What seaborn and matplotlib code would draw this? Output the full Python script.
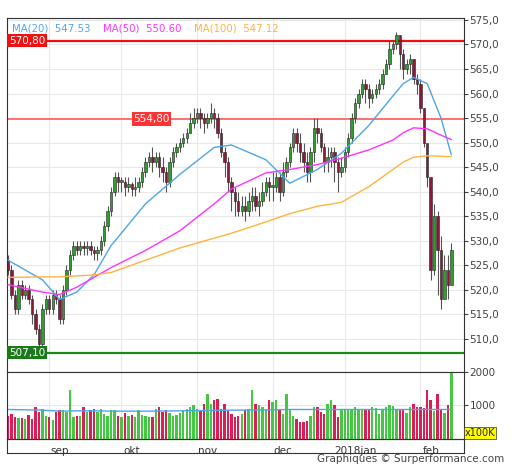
import numpy as np
import pandas as pd
import matplotlib
matplotlib.use("Agg")
import matplotlib.pyplot as plt
import seaborn as sns

# daily closes, Aug 16 2017 .. Feb 14 2018
closes = [524, 519, 516, 521, 519, 520, 518, 515, 512, 509, 516, 518,
          516, 519, 518, 514, 520, 524, 527, 529, 528, 529, 528.5, 529, 528, 527.5, 528, 530, 533, 536, 540, 543, 542,
          542, 541, 541.5, 540.5, 541, 542, 544, 546, 547, 546, 547, 545, 544, 542, 546, 548, 549, 550, 551, 552, 554, 555,
          556, 555, 554, 555, 556, 555, 552, 548, 546, 542, 540, 538, 536, 537, 536, 538, 539, 537, 538, 540, 542, 541,
          541, 543, 540, 544, 546, 549, 552, 550, 548, 546, 544, 548, 553, 552, 549, 546, 547, 548, 546, 544, 545,
          548, 551, 555, 558, 560, 562, 561, 559, 560, 561, 562, 564, 566, 569, 570, 572, 568, 565, 566, 567, 563, 562,
          557, 550, 543, 524, 535, 528, 518, 524, 521, 528]
highs = [527, 525, 520, 522, 522, 521, 521, 519, 516, 513, 517, 519,
         519, 520, 520, 519, 521, 525, 528, 530, 530, 530, 530, 530, 530, 529, 529, 531, 534, 537, 541, 544, 544,
         543, 543, 543, 542, 543, 543, 545, 547, 548, 549, 548, 548, 547, 545, 547, 549, 550, 551, 552, 553, 556, 557,
         557, 557, 556, 556, 558, 557, 556, 553, 549, 547, 543, 541, 540, 539, 539, 540, 541, 541, 540, 542, 543, 543,
         544, 544, 544, 546, 547, 550, 553, 553, 552, 550, 548, 549, 555, 555, 553, 550, 549, 549, 549, 547, 547,
         549, 552, 556, 559, 561, 563, 563, 562, 561, 562, 563, 565, 567, 571, 571, 572.5, 571, 569, 567, 568, 567, 564,
         563, 557, 545, 537, 537.5, 536, 531, 527, 527, 529.5]
lows = [523, 518, 515, 515, 518, 518, 517, 513, 511, 507.1, 508, 515,
        515, 515, 517, 513, 513, 519, 523, 526, 527, 527, 527, 527, 527, 526, 526, 527, 529, 532, 535, 539, 540,
        540, 539, 540, 539, 539, 540, 541, 543, 545, 544, 545, 543, 542, 540, 541, 545, 547, 548, 549, 550, 552, 553,
        554, 553, 552, 553, 554, 553, 551, 547, 543, 540, 536, 535, 535, 535, 534, 535, 536, 536, 535, 537, 539, 538,
        538, 540, 538, 539, 543, 545, 548, 548, 546, 544, 542, 542, 546, 550, 548, 544, 544, 545, 542, 540, 543,
        544, 547, 550, 554, 557, 559, 558, 557, 558, 559, 560, 561, 564, 565, 568, 569, 565, 563, 564, 564, 562, 560,
        556, 549, 541, 522, 523, 519, 516, 520, 518, 526]
volumes = [700, 750, 650, 620, 640, 600, 720, 600, 950, 800, 900, 700,
           650, 570, 800, 850, 850, 820, 1450, 650, 700, 700, 950, 800, 850, 900, 800, 900, 750, 700, 850, 870, 700,
           650, 780, 700, 720, 650, 850, 720, 700, 650, 650, 900, 950, 800, 850, 770, 700, 720, 780, 850, 880, 950, 1000,
           900, 850, 1050, 1350, 1050, 1150, 1200, 900, 1050, 850, 750, 650, 680, 750, 850, 900, 1450, 1050, 1000, 950, 850, 1150,
           1100, 1150, 850, 750, 1350, 850, 700, 600, 500, 500, 550, 700, 950, 950, 800, 750, 1050, 1150, 1000, 650, 900,
           850, 870, 900, 950, 850, 880, 900, 870, 950, 920, 760, 900, 950, 1000, 970, 880, 900, 880, 790, 940, 1050, 950,
           950, 930, 1450, 1150, 830, 1350, 860, 780, 1020, 2000]
first_open = 526

# moving averages read at sample days
ma_idx = [0, 10, 15, 20, 25, 30, 40, 50, 60, 65, 75, 82, 90, 97, 105, 112, 115, 118, 122, 126, 129]
ma20 = [526, 522, 518, 519.5, 523, 529, 537.5, 543.5, 549, 549.5, 546.5, 541.7, 544.5, 547.8, 553.5, 559.5, 562, 563.3, 562, 555, 547.5]
ma50 = [521, 519.5, 519, 520.5, 522.5, 524.5, 528, 532, 537.5, 540.5, 543.8, 544.5, 545.5, 546.8, 548.5, 550.5, 552, 553, 552.8, 551.5, 550.6]
ma100 = [522.5, 522.6, 522.6, 522.8, 523, 523.5, 526, 528.5, 530.5, 531.5, 533.8, 535.5, 537, 537.8, 541, 544.5, 546, 547, 547.3, 547.2, 547.1]
vol_avg = [880, 860, 830, 840, 840, 830, 830, 840, 850, 860, 870, 880, 880, 880, 880, 880, 880, 880, 880, 880, 880]

month_idx = [12, 33, 55, 77, 98, 120]
month_labels = ["sep", "okt", "nov", "dec", "2018jan", "feb"]

n = min(len(closes), len(highs), len(lows), len(volumes))
df = pd.DataFrame({"close": closes[:n], "high": highs[:n], "low": lows[:n], "volume": volumes[:n]})
df["open"] = df["close"].shift(1).fillna(first_open)
df["up"] = df["close"] >= df["open"]
df["idx"] = np.arange(n)
ma = pd.DataFrame({"idx": ma_idx, "ma20": ma20, "ma50": ma50, "ma100": ma100, "vavg": vol_avg})

sns.set_style("whitegrid", {"grid.color": "#e8e8e8", "axes.edgecolor": "#333333"})
plt.rcParams["font.family"] = ["DejaVu Sans"]

fig = plt.figure(figsize=(5.12, 4.70), dpi=100)
ax = fig.add_axes([0.0137, 0.2085, 0.8926, 0.7532])
axv = fig.add_axes([0.0137, 0.066, 0.8926, 0.1426], sharex=ax)

# candles
ax.vlines(df["idx"], df["low"], df["high"], color="#555555", lw=0.8, zorder=3)
body_bottom = np.minimum(df["open"], df["close"])
body_h = np.maximum(np.abs(df["close"] - df["open"]), 0.3)
cols = np.where(df["up"], "#2e9e2e", "#8b1a3a")
ax.bar(df["idx"], body_h, bottom=body_bottom, width=0.7, color=cols, edgecolor="#222222", lw=0.4, zorder=4)

sns.lineplot(data=ma, x="idx", y="ma20", ax=ax, color="#4da6e8", lw=1, zorder=5)
sns.lineplot(data=ma, x="idx", y="ma50", ax=ax, color="#ff33ff", lw=1, zorder=5)
sns.lineplot(data=ma, x="idx", y="ma100", ax=ax, color="#ffb340", lw=1, zorder=5)

ax.axhline(570.8, color="#ee1111", lw=1.6, zorder=2)
ax.axhline(554.8, color="#ff6666", lw=1.3, zorder=2)
ax.axhline(507.1, color="#1a8a1a", lw=1.6, zorder=2)
box = dict(boxstyle="square,pad=0.15", lw=0)
ax.text(0.2, 570.8, "570,80", color="white", fontsize=7.5, va="center", bbox={**box, "fc": "#ee1111"}, zorder=6)
ax.text(36.5, 554.8, "554,80", color="white", fontsize=7.5, va="center", bbox={**box, "fc": "#ff3333"}, zorder=6)
ax.text(0.2, 507.1, "507,10", color="white", fontsize=7.5, va="center", bbox={**box, "fc": "#1a7a1a"}, zorder=6)

ax.text(0.01, 0.985, "MA(20)  547.53", color="#4da6e8", fontsize=7.3, transform=ax.transAxes, va="top")
ax.text(0.21, 0.985, "MA(50)  550.60", color="#ff33ff", fontsize=7.3, transform=ax.transAxes, va="top")
ax.text(0.41, 0.985, "MA(100)  547.12", color="#ffb340", fontsize=7.3, transform=ax.transAxes, va="top")

ax.set_xlim(-0.3, 132.7)
ax.set_ylim(503.2, 575.4)
ax.set_yticks(np.arange(510, 576, 5))
ax.set_yticklabels([f"{v:.1f}".replace(".", ",") for v in np.arange(510, 576, 5)])
ax.yaxis.tick_right()
ax.tick_params(axis="y", labelsize=7.5, colors="#444444", length=3, pad=1, right=True)
ax.set_xticks(month_idx)
ax.tick_params(axis="x", labelbottom=False, length=0)
ax.set_xlabel("")
ax.set_ylabel("")

# volume
vcols = np.where(df["up"], "#44c844", "#dc1e55")
axv.bar(df["idx"], df["volume"], width=0.7, color=vcols, lw=0)
sns.lineplot(data=ma, x="idx", y="vavg", ax=axv, color="#4da6e8", lw=1)
axv.set_ylim(0, 2000)
axv.set_yticks([1000, 2000])
axv.set_yticklabels(["1000", "2000"])
axv.yaxis.tick_right()
axv.tick_params(axis="y", labelsize=7.5, colors="#444444", length=3, pad=1, right=True)
axv.set_xticks(month_idx)
axv.set_xticklabels([])
axv.tick_params(axis="x", length=0)
axv.set_xlabel("")
axv.set_ylabel("")
for i, lab in zip(month_idx, month_labels):
    axv.text(i + 3, -0.1, lab, fontsize=7.5, color="#333333", ha="center", va="top",
             transform=axv.get_xaxis_transform())
axv.text(1.002, 0.02, "x100K", fontsize=7, transform=axv.transAxes, va="bottom",
         bbox=dict(boxstyle="square,pad=0.1", fc="#ffff00", ec="#333333", lw=0.5))

strip = fig.add_axes([0.0137, 0.036, 0.8926, 0.03])
strip.set_xticks([])
strip.set_yticks([])
strip.patch.set_alpha(0)

fig.text(0.985, 0.012, "Graphiques © Surperformance.com", fontsize=7.5, color="#444444", ha="right", va="bottom")

fig.savefig("out.png", dpi=100)
